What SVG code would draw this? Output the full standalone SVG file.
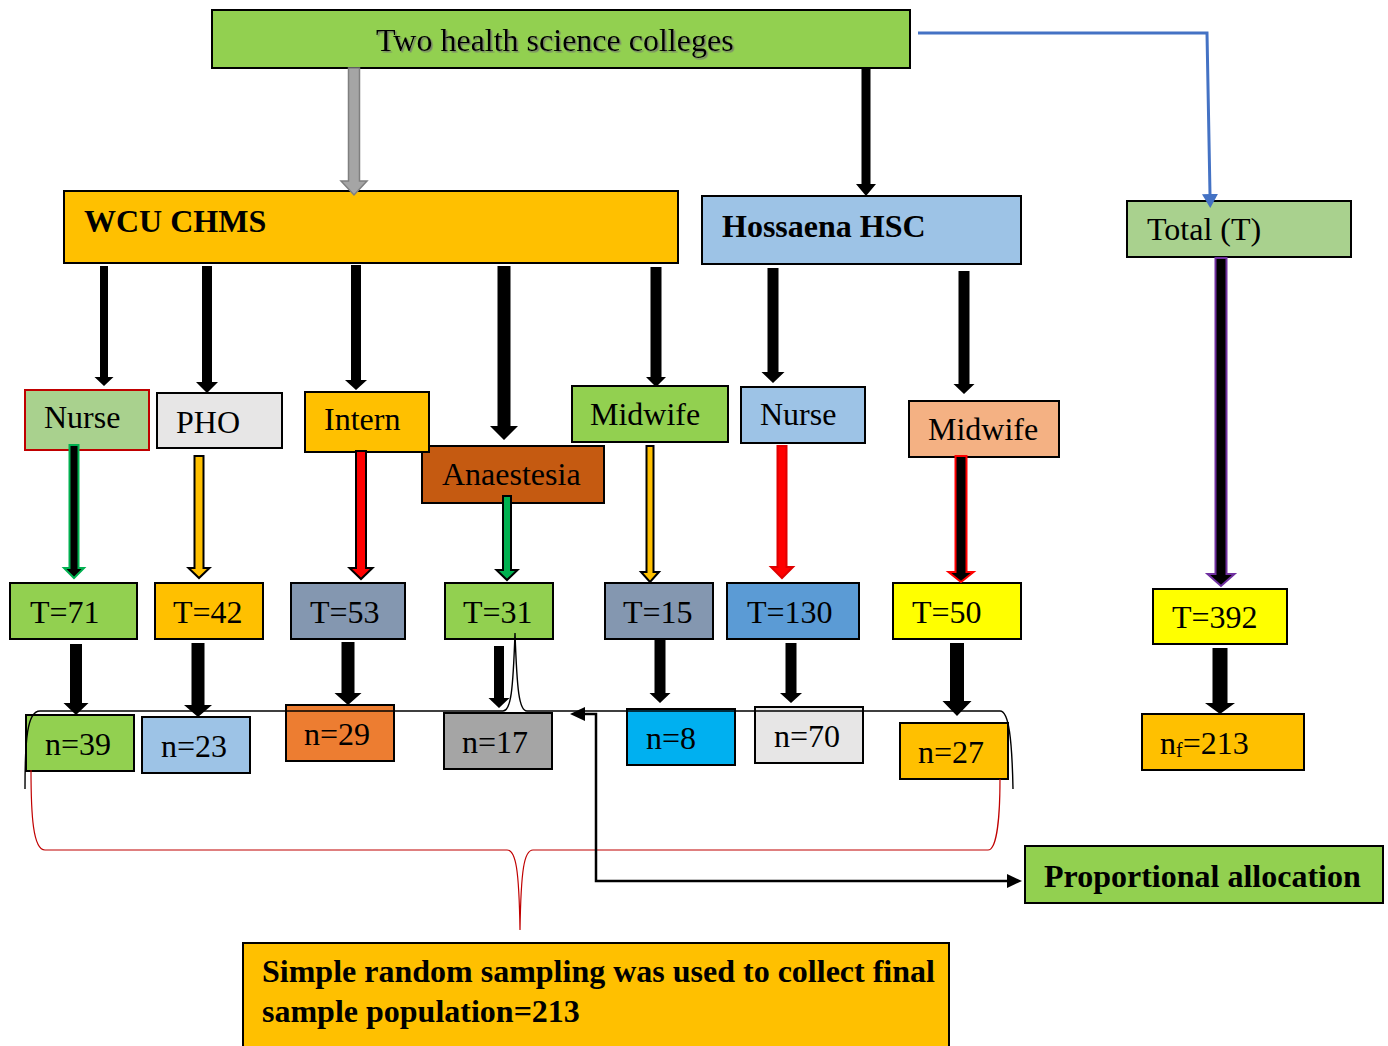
<svg xmlns="http://www.w3.org/2000/svg" width="1388" height="1046" viewBox="0 0 1388 1046">
<style>
.box{stroke:#000;stroke-width:2}
.t{font-family:"Liberation Serif","Times New Roman",serif;font-size:32px;fill:#000}
.b{font-weight:bold}
.blk{fill:#000}
.ol{stroke-width:2;stroke-linejoin:miter}
.line{fill:none;stroke:#000;stroke-width:2.5}
.brace{fill:none;stroke:#000;stroke-width:1.4}
.rbrace{fill:none;stroke:#C00000;stroke-width:1.2}
</style>
<defs>
<marker id="ah" markerUnits="userSpaceOnUse" markerWidth="16" markerHeight="14" refX="0" refY="7" orient="auto-start-reverse"><path d="M0,0 L15,7 L0,14 z" fill="#000"/></marker>
<marker id="ahb" markerUnits="userSpaceOnUse" markerWidth="18" markerHeight="16" refX="0" refY="8" orient="auto"><path d="M0,0 L14,8 L0,16 z" fill="#4472C4"/></marker>
<filter id="sh" x="-5%" y="-20%" width="110%" height="150%"><feDropShadow dx="1.5" dy="1.5" stdDeviation="0.6" flood-color="#707070" flood-opacity="0.8"/></filter>
</defs>

<g id="n-top"><rect class="box" x="212" y="10" width="698" height="58" fill="#92D050"/><text class="t" x="376" y="51" filter="url(#sh)">Two health science colleges</text></g>
<g id="n-wcu"><rect class="box" x="64" y="191" width="614" height="72" fill="#FFC000"/><text class="t b" x="84" y="232">WCU CHMS</text></g>
<g id="n-hossaena"><rect class="box" x="702" y="196" width="319" height="68" fill="#9DC3E6"/><text class="t b" x="722" y="237">Hossaena HSC</text></g>
<g id="n-total"><rect class="box" x="1127" y="201" width="224" height="56" fill="#A9D18E"/><text class="t" x="1147" y="240">Total (T)</text></g>

<g id="n-nurse1"><rect x="25" y="390" width="124" height="60" fill="#A9D18E" stroke="#C00000" stroke-width="2"/><text class="t" x="44" y="428">Nurse</text></g>
<g id="n-pho"><rect class="box" x="157" y="393" width="125" height="55" fill="#E7E6E6"/><text class="t" x="176" y="433">PHO</text></g>
<g id="n-anaestesia"><rect class="box" x="422" y="446" width="182" height="57" fill="#C55A11"/><text class="t" x="442" y="485">Anaestesia</text></g>
<g id="n-intern"><rect class="box" x="305" y="392" width="124" height="60" fill="#FFC000"/><text class="t" x="324" y="430">Intern</text></g>
<g id="n-midwife1"><rect class="box" x="572" y="386" width="156" height="56" fill="#92D050"/><text class="t" x="590" y="425">Midwife</text></g>
<g id="n-nurse2"><rect class="box" x="741" y="387" width="124" height="56" fill="#9DC3E6"/><text class="t" x="760" y="425">Nurse</text></g>
<g id="n-midwife2"><rect class="box" x="909" y="401" width="150" height="56" fill="#F4B183"/><text class="t" x="928" y="440">Midwife</text></g>

<g id="n-t71"><rect class="box" x="10" y="583" width="127" height="56" fill="#92D050"/><text class="t" x="30" y="623">T=71</text></g>
<g id="n-t42"><rect class="box" x="155" y="583" width="108" height="56" fill="#FFC000"/><text class="t" x="173" y="623">T=42</text></g>
<g id="n-t53"><rect class="box" x="291" y="583" width="114" height="56" fill="#8497B0"/><text class="t" x="310" y="623">T=53</text></g>
<g id="n-t31"><rect class="box" x="445" y="583" width="108" height="56" fill="#92D050"/><text class="t" x="463" y="623">T=31</text></g>
<g id="n-t15"><rect class="box" x="605" y="583" width="108" height="56" fill="#8497B0"/><text class="t" x="623" y="623">T=15</text></g>
<g id="n-t130"><rect class="box" x="727" y="583" width="132" height="56" fill="#5B9BD5"/><text class="t" x="747" y="623">T=130</text></g>
<g id="n-t50"><rect class="box" x="893" y="583" width="128" height="56" fill="#FFFF00"/><text class="t" x="912" y="623">T=50</text></g>
<g id="n-t392"><rect class="box" x="1153" y="589" width="134" height="55" fill="#FFFF00"/><text class="t" x="1172" y="628">T=392</text></g>

<g id="n-n39"><rect class="box" x="26" y="715" width="108" height="56" fill="#92D050"/><text class="t" x="45" y="755">n=39</text></g>
<g id="n-n23"><rect class="box" x="142" y="717" width="108" height="56" fill="#9DC3E6"/><text class="t" x="161" y="757">n=23</text></g>
<g id="n-n29"><rect class="box" x="286" y="705" width="108" height="56" fill="#ED7D31"/><text class="t" x="304" y="745">n=29</text></g>
<g id="n-n17"><rect class="box" x="444" y="713" width="108" height="56" fill="#A5A5A5"/><text class="t" x="462" y="753">n=17</text></g>
<g id="n-n8"><rect class="box" x="627" y="709" width="108" height="56" fill="#00B0F0"/><text class="t" x="646" y="749">n=8</text></g>
<g id="n-n70"><rect class="box" x="755" y="707" width="108" height="56" fill="#E7E6E6"/><text class="t" x="774" y="747">n=70</text></g>
<g id="n-n27"><rect class="box" x="900" y="723" width="108" height="56" fill="#FFC000"/><text class="t" x="918" y="763">n=27</text></g>
<g id="n-nf"><rect class="box" x="1142" y="714" width="162" height="56" fill="#FFC000"/><text class="t" x="1160" y="754">n<tspan font-size="20" dy="3">f</tspan><tspan dy="-3">=213</tspan></text></g>

<g id="n-prop"><rect class="box" x="1025" y="846" width="358" height="57" fill="#92D050"/><text class="t b" x="1044" y="887">Proportional allocation</text></g>
<g id="n-final"><rect class="box" x="243" y="943" width="706" height="110" fill="#FFC000"/><text class="t b" x="262" y="982">Simple random sampling was used to collect final</text><text class="t b" x="262" y="1022">sample population=213</text></g>

<g id="connectors">
<polygon points="348.5,68 359.5,68 359.5,181 367,181 354,195 341,181 348.5,181" fill="#A5A5A5" stroke="#7F7F7F" stroke-width="1.5"/>
<polygon class="blk" points="861.5,68 870.5,68 870.5,184 876,184 866,196 856,184 861.5,184"/>
<polyline points="918,33 1207,33 1210,194" fill="none" stroke="#4472C4" stroke-width="3" marker-end="url(#ahb)"/>

<polygon class="blk" points="100,266 108,266 108,377 113.5,377 104,386 94.5,377 100,377"/>
<polygon class="blk" points="202,266 212,266 212,382 218,382 207,393 196,382 202,382"/>
<polygon class="blk" points="351,265 361,265 361,380 367,380 356,390 345,380 351,380"/>
<polygon class="blk" points="497.5,266 510.5,266 510.5,426 518,426 504,440 490,426 497.5,426"/>
<polygon class="blk" points="650.5,267 661.5,267 661.5,377 666,377 656,387 646,377 650.5,377"/>
<polygon class="blk" points="767.5,268 778.5,268 778.5,372 784.5,372 773,383 761.5,372 767.5,372"/>
<polygon class="blk" points="958.5,271 969.5,271 969.5,384 974.5,384 964,394 953.5,384 958.5,384"/>

<polygon class="ol" points="69.5,445 78.5,445 78.5,568 84,568 74,578 64,568 69.5,568" fill="#000" stroke="#00B050"/>
<polygon class="ol" points="194.5,456 203.5,456 203.5,568 209.5,568 199,578 188.5,568 194.5,568" fill="#FFC000" stroke="#000"/>
<polygon class="ol" points="356,451 366,451 366,568 372.5,568 361,579 349.5,568 356,568" fill="#FF0000" stroke="#000"/>
<polygon class="ol" points="503,496 511,496 511,570 517.5,570 507,580 496.5,570 503,570" fill="#00B050" stroke="#000"/>
<polygon class="ol" points="646.5,446 653.5,446 653.5,572 659,572 650,582 641,572 646.5,572" fill="#FFC000" stroke="#000"/>
<polygon class="ol" points="777.5,446 786.5,446 786.5,567 793,567 782,578 771,567 777.5,567" fill="#FF0000" stroke="#E00000"/>
<polygon class="ol" points="955.5,456 966.5,456 966.5,572 973.5,572 961,582 948.5,572 955.5,572" fill="#000" stroke="#FF0000"/>
<polygon class="ol" points="1215.5,258 1226.5,258 1226.5,574 1234.5,574 1221,586 1207.5,574 1215.5,574" fill="#000" stroke="#7030A0"/>

<polygon class="blk" points="70,644 82,644 82,703 88.5,703 76,715 63.5,703 70,703"/>
<polygon class="blk" points="191.5,643 204.5,643 204.5,705 212,705 198,717 184,705 191.5,705"/>
<polygon class="blk" points="341.5,642 354.5,642 354.5,693 361.5,693 348,705 334.5,693 341.5,693"/>
<polygon class="blk" points="494,646 504,646 504,698 509.5,698 499,708 488.5,698 494,698"/>
<polygon class="blk" points="654.5,639 665.5,639 665.5,693 670.5,693 660,703 649.5,693 654.5,693"/>
<polygon class="blk" points="785.5,643 796.5,643 796.5,693 802,693 791,703 780,693 785.5,693"/>
<polygon class="blk" points="950,643 964,643 964,701 971.5,701 957,716 942.5,701 950,701"/>
<polygon class="blk" points="1212.5,648 1227.5,648 1227.5,703 1235,703 1220,714 1205,703 1212.5,703"/>

<path class="brace" d="M25,789 C25,740 27,711 40,711 L503,711 C511,711 513,690 515,633 C517,690 519,711 527,711 L1000,711 C1009,711 1012,740 1013,789"/>
<path class="rbrace" d="M31,770 C31,815 33,850 45,850 L507,850 C516,850 519,870 520,930 C521,870 524,850 533,850 L988,850 C997,850 1000,815 1000,779"/>
<path class="line" d="M585,714 H596 V881 H1007" marker-start="url(#ah)" marker-end="url(#ah)"/>
</g>
</svg>
